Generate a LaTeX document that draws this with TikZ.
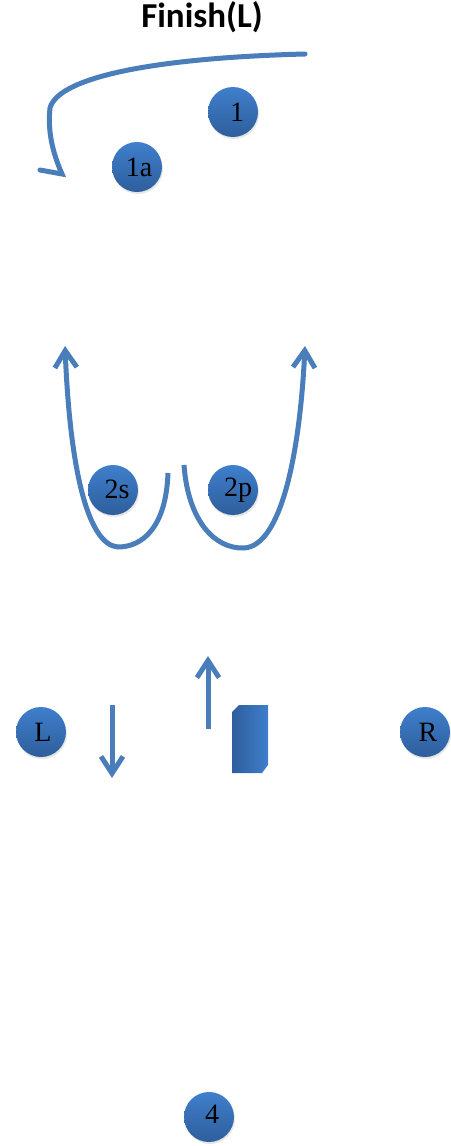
\documentclass[tikz,border=0pt]{standalone}
\usepackage{fontspec}
\newfontfamily\titlefont{Carlito}
\newfontfamily\ballfont{Liberation Serif}
\usetikzlibrary{arrows.meta,shadows}
\definecolor{ballTop}{HTML}{3F7FCC}
\definecolor{ballBot}{HTML}{2E5E9C}
\definecolor{lineBlue}{HTML}{4A7EBB}
\tikzset{
  player/.style={circle, minimum size=50pt, inner sep=0pt,
    top color=ballTop, bottom color=ballBot, draw=none,
    drop shadow={shadow xshift=1pt, shadow yshift=-2pt, opacity=0.2},
    font=\ballfont\fontsize{28}{28}\selectfont, text=black},
  route/.style={draw=lineBlue, line width=5pt},
  routetip/.style={route, -{Straight Barb[length=17pt,width=22pt,line width=5pt]}},
}
\begin{document}
\begin{tikzpicture}[x=1pt,y=-1pt]
\useasboundingbox (0,0) rectangle (450,1146);
\node[font=\titlefont\bfseries\fontsize{35}{35}\selectfont, anchor=base] (title) at (202,27) {Finish(L)};

% top route
\coordinate (t0) at (305,54);
\coordinate (t1) at (62,174);
\coordinate (t2) at (40,170);
\draw[route, line cap=round] (t0) .. controls (150,58) and (58,78) .. (50,108) .. controls (47,135) and (55,158) .. (t1) -- (t2);

% U routes
\coordinate (u1s) at (168,473);
\coordinate (u1e) at (65,346);
\draw[routetip] (u1s) .. controls (166,528) and (142,547) .. (118,547) .. controls (88,545) and (70,470) .. (u1e);
\coordinate (u2s) at (184,465);
\coordinate (u2e) at (305,346);
\draw[routetip] (u2s) .. controls (188,520) and (214,549) .. (244,548) .. controls (282,546) and (300,450) .. (u2e);

% short arrows
\coordinate (d0) at (112,705);
\coordinate (d1) at (112,778);
\draw[routetip] (d0) -- (d1);
\coordinate (up0) at (208,729);
\coordinate (up1) at (208,656);
\draw[routetip] (up0) -- (up1);

% block
\shade[left color=ballBot, right color=ballTop]
  (239,705) -- (268,705) -- (268,765) -- (262,773) -- (232,773) -- (232,712) -- cycle;

% players
\node[player] (p1) at (233,112) {\raisebox{-2pt}{\hspace{8pt}1}};
\node[player] (p1a) at (137,167) {\raisebox{-3pt}{\hspace{4pt}1a}};
\node[player] (p2s) at (113,490) {\raisebox{2pt}{\hspace{8pt}2s}};
\node[player] (p2p) at (233,490) {\raisebox{-4pt}{\hspace{10pt}2p}};
\node[player] (pL) at (41,732) {\raisebox{-2pt}{\hspace{4pt}L}};
\node[player] (pR) at (425,732) {\raisebox{-2pt}{\hspace{6pt}R}};
\node[player] (p4) at (209,1117) {\raisebox{5pt}{\hspace{6pt}4}};
\end{tikzpicture}
\end{document}
